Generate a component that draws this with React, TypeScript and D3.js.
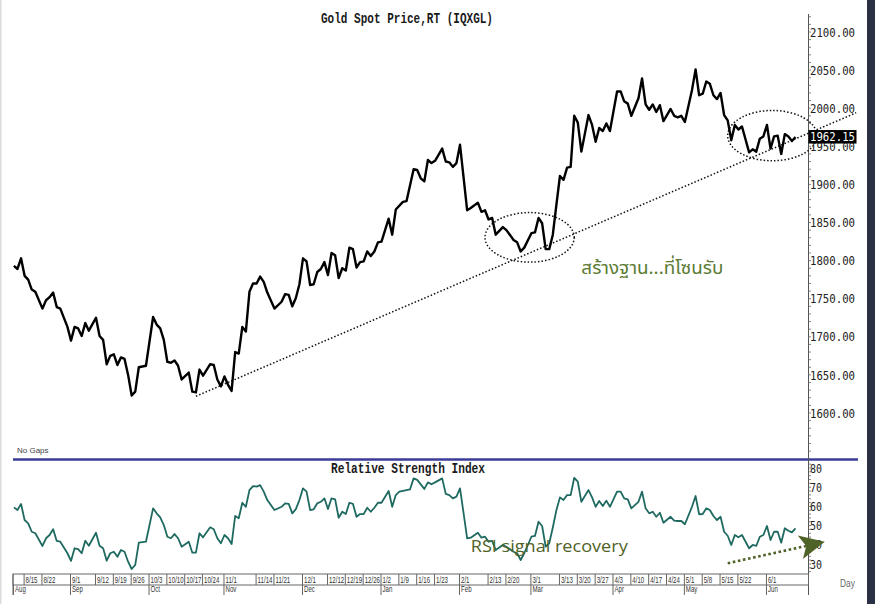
import React from "react";
import * as d3 from "d3";

const START = "2022-08-10";

const title = "Gold Spot Price,RT (IQXGL)";
const rsiTitle = "Relative Strength Index";
const noteThai = "สร้างฐาน...ที่โซนรับ";
const noteRsi = "RSI signal recovery";
const lastPrice = 1962.15;

const priceSeries: [string, number][] = [
  ["2022-08-10", 1793], ["2022-08-11", 1789], ["2022-08-12", 1803], ["2022-08-15", 1780], ["2022-08-16", 1775],
  ["2022-08-17", 1762], ["2022-08-18", 1759], ["2022-08-22", 1737], ["2022-08-23", 1748], ["2022-08-24", 1752],
  ["2022-08-25", 1758], ["2022-08-26", 1739], ["2022-08-29", 1737], ["2022-08-31", 1713], ["2022-09-01", 1695],
  ["2022-09-02", 1713], ["2022-09-05", 1711], ["2022-09-06", 1701], ["2022-09-07", 1718], ["2022-09-08", 1708],
  ["2022-09-12", 1725], ["2022-09-13", 1701], ["2022-09-14", 1696], ["2022-09-15", 1664], ["2022-09-16", 1675],
  ["2022-09-19", 1677], ["2022-09-20", 1663], ["2022-09-21", 1673], ["2022-09-22", 1671], ["2022-09-23", 1650],
  ["2022-09-26", 1623], ["2022-09-27", 1628], ["2022-09-28", 1660], ["2022-09-30", 1662], ["2022-10-04", 1726],
  ["2022-10-05", 1716], ["2022-10-06", 1711], ["2022-10-07", 1696], ["2022-10-10", 1667], ["2022-10-11", 1666],
  ["2022-10-12", 1669], ["2022-10-13", 1662], ["2022-10-14", 1644], ["2022-10-18", 1653], ["2022-10-19", 1628],
  ["2022-10-20", 1627], ["2022-10-21", 1657], ["2022-10-24", 1649], ["2022-10-26", 1664], ["2022-10-27", 1663],
  ["2022-10-28", 1644], ["2022-10-31", 1635], ["2022-11-01", 1648], ["2022-11-02", 1637], ["2022-11-03", 1629],
  ["2022-11-04", 1680], ["2022-11-07", 1678], ["2022-11-08", 1713], ["2022-11-09", 1707], ["2022-11-10", 1759],
  ["2022-11-11", 1770], ["2022-11-14", 1770], ["2022-11-15", 1779], ["2022-11-16", 1772], ["2022-11-17", 1758],
  ["2022-11-21", 1737], ["2022-11-23", 1746], ["2022-11-24", 1756], ["2022-11-25", 1755], ["2022-11-28", 1740],
  ["2022-11-29", 1751], ["2022-11-30", 1769], ["2022-12-01", 1803], ["2022-12-02", 1799], ["2022-12-05", 1768],
  ["2022-12-06", 1769], ["2022-12-07", 1785], ["2022-12-08", 1789], ["2022-12-09", 1798], ["2022-12-12", 1781],
  ["2022-12-13", 1810], ["2022-12-14", 1807], ["2022-12-15", 1777], ["2022-12-16", 1790], ["2022-12-19", 1787],
  ["2022-12-20", 1817], ["2022-12-21", 1815], ["2022-12-22", 1791], ["2022-12-23", 1798], ["2022-12-26", 1799],
  ["2022-12-27", 1812], ["2022-12-28", 1806], ["2022-12-29", 1812], ["2022-12-30", 1824], ["2023-01-02", 1825],
  ["2023-01-04", 1855], ["2023-01-05", 1834], ["2023-01-06", 1867], ["2023-01-10", 1877], ["2023-01-11", 1878],
  ["2023-01-13", 1920], ["2023-01-16", 1919], ["2023-01-17", 1908], ["2023-01-18", 1904], ["2023-01-19", 1932],
  ["2023-01-20", 1928], ["2023-01-23", 1931], ["2023-01-25", 1947], ["2023-01-26", 1930], ["2023-01-27", 1929],
  ["2023-01-30", 1923], ["2023-01-31", 1928], ["2023-02-01", 1952], ["2023-02-03", 1866], ["2023-02-06", 1869],
  ["2023-02-08", 1876], ["2023-02-09", 1864], ["2023-02-10", 1866], ["2023-02-13", 1854], ["2023-02-14", 1856],
  ["2023-02-15", 1834], ["2023-02-17", 1844], ["2023-02-20", 1840], ["2023-02-22", 1827], ["2023-02-23", 1824],
  ["2023-02-24", 1812], ["2023-02-27", 1817], ["2023-03-01", 1836], ["2023-03-02", 1837], ["2023-03-03", 1856],
  ["2023-03-06", 1849], ["2023-03-07", 1815], ["2023-03-08", 1815], ["2023-03-09", 1834], ["2023-03-10", 1873],
  ["2023-03-13", 1911], ["2023-03-14", 1906], ["2023-03-15", 1922], ["2023-03-16", 1923], ["2023-03-17", 1990],
  ["2023-03-20", 1981], ["2023-03-21", 1943], ["2023-03-23", 1991], ["2023-03-24", 1978], ["2023-03-27", 1956],
  ["2023-03-28", 1974], ["2023-03-29", 1970], ["2023-03-30", 1980], ["2023-03-31", 1970], ["2023-04-04", 2022],
  ["2023-04-05", 2022], ["2023-04-06", 2009], ["2023-04-07", 2006], ["2023-04-10", 1990], ["2023-04-12", 2013],
  ["2023-04-13", 2039], ["2023-04-14", 2005], ["2023-04-17", 1998], ["2023-04-18", 2005], ["2023-04-19", 1995],
  ["2023-04-20", 2004], ["2023-04-21", 1983], ["2023-04-25", 1999], ["2023-04-26", 1990], ["2023-04-27", 1988],
  ["2023-04-28", 1990], ["2023-05-01", 1982], ["2023-05-03", 2024], ["2023-05-04", 2051], ["2023-05-05", 2017],
  ["2023-05-08", 2019], ["2023-05-09", 2035], ["2023-05-10", 2032], ["2023-05-11", 2017], ["2023-05-12", 2012],
  ["2023-05-15", 2020], ["2023-05-16", 1991], ["2023-05-17", 1984], ["2023-05-18", 1958], ["2023-05-19", 1978],
  ["2023-05-22", 1972], ["2023-05-23", 1976], ["2023-05-25", 1942], ["2023-05-26", 1946], ["2023-05-29", 1943],
  ["2023-05-30", 1960], ["2023-05-31", 1963], ["2023-06-01", 1978], ["2023-06-02", 1947], ["2023-06-05", 1963],
  ["2023-06-06", 1964], ["2023-06-07", 1940], ["2023-06-08", 1966], ["2023-06-09", 1963], ["2023-06-12", 1957],
  ["2023-06-13", 1962.15],
];

const rsiSeries: [string, number][] = [
  ["2022-08-10", 59.5], ["2022-08-11", 58.1], ["2022-08-12", 61.3], ["2022-08-15", 52.9], ["2022-08-16", 51.2],
  ["2022-08-17", 46.8], ["2022-08-18", 46.0], ["2022-08-22", 39.4], ["2022-08-23", 43.4], ["2022-08-24", 45.1],
  ["2022-08-25", 48.1], ["2022-08-26", 42.0], ["2022-08-29", 41.6], ["2022-08-31", 35.6], ["2022-09-01", 31.6],
  ["2022-09-02", 38.2], ["2022-09-05", 37.7], ["2022-09-06", 35.6], ["2022-09-07", 42.1], ["2022-09-08", 39.5],
  ["2022-09-12", 46.3], ["2022-09-13", 39.5], ["2022-09-14", 38.2], ["2022-09-15", 31.7], ["2022-09-16", 35.6],
  ["2022-09-19", 36.4], ["2022-09-20", 33.8], ["2022-09-21", 37.3], ["2022-09-22", 36.4], ["2022-09-23", 31.2],
  ["2022-09-26", 27.4], ["2022-09-27", 29.5], ["2022-09-28", 41.1], ["2022-09-30", 41.6], ["2022-10-04", 59.0],
  ["2022-10-05", 56.4], ["2022-10-06", 54.3], ["2022-10-07", 50.3], ["2022-10-10", 44.2], ["2022-10-11", 43.4],
  ["2022-10-12", 45.6], ["2022-10-13", 43.4], ["2022-10-14", 39.0], ["2022-10-18", 41.6], ["2022-10-19", 35.9],
  ["2022-10-20", 35.9], ["2022-10-21", 46.0], ["2022-10-24", 43.9], ["2022-10-26", 49.1], ["2022-10-27", 48.1],
  ["2022-10-28", 43.4], ["2022-10-31", 40.8], ["2022-11-01", 45.1], ["2022-11-02", 43.4], ["2022-11-03", 40.4],
  ["2022-11-04", 55.0], ["2022-11-07", 53.8], ["2022-11-08", 61.9], ["2022-11-09", 59.8], ["2022-11-10", 68.5],
  ["2022-11-11", 70.6], ["2022-11-14", 70.3], ["2022-11-15", 71.1], ["2022-11-16", 67.7], ["2022-11-17", 63.3],
  ["2022-11-21", 58.1], ["2022-11-23", 59.8], ["2022-11-24", 61.6], ["2022-11-25", 61.3], ["2022-11-28", 56.4],
  ["2022-11-29", 58.6], ["2022-11-30", 63.3], ["2022-12-01", 69.4], ["2022-12-02", 67.7], ["2022-12-05", 58.1],
  ["2022-12-06", 58.5], ["2022-12-07", 61.6], ["2022-12-08", 62.4], ["2022-12-09", 64.2], ["2022-12-12", 58.6],
  ["2022-12-13", 64.2], ["2022-12-14", 63.7], ["2022-12-15", 54.1], ["2022-12-16", 57.2], ["2022-12-19", 56.0],
  ["2022-12-20", 61.9], ["2022-12-21", 61.3], ["2022-12-22", 54.6], ["2022-12-23", 56.0], ["2022-12-26", 56.0],
  ["2022-12-27", 59.3], ["2022-12-28", 57.2], ["2022-12-29", 59.3], ["2022-12-30", 61.9], ["2023-01-02", 61.9],
  ["2023-01-04", 68.0], ["2023-01-05", 59.8], ["2023-01-06", 65.9], ["2023-01-09", 67.7], ["2023-01-11", 68.5],
  ["2023-01-12", 68.9], ["2023-01-13", 74.6], ["2023-01-16", 73.8], ["2023-01-18", 69.1], ["2023-01-19", 72.5],
  ["2023-01-20", 71.5], ["2023-01-23", 72.5], ["2023-01-25", 74.6], ["2023-01-26", 66.5], ["2023-01-27", 65.9],
  ["2023-01-30", 64.2], ["2023-01-31", 65.1], ["2023-02-01", 69.4], ["2023-02-03", 43.4], ["2023-02-06", 43.7],
  ["2023-02-08", 46.3], ["2023-02-09", 43.7], ["2023-02-10", 44.2], ["2023-02-13", 41.6], ["2023-02-14", 42.0],
  ["2023-02-15", 37.3], ["2023-02-17", 39.9], ["2023-02-20", 39.0], ["2023-02-22", 36.4], ["2023-02-23", 35.6],
  ["2023-02-24", 32.1], ["2023-02-27", 35.6], ["2023-03-01", 44.2], ["2023-03-02", 44.6], ["2023-03-03", 52.0],
  ["2023-03-06", 49.8], ["2023-03-07", 39.0], ["2023-03-08", 40.8], ["2023-03-09", 49.0], ["2023-03-10", 58.0],
  ["2023-03-13", 64.7], ["2023-03-14", 63.3], ["2023-03-15", 65.9], ["2023-03-16", 65.9], ["2023-03-17", 74.9],
  ["2023-03-20", 72.9], ["2023-03-21", 62.4], ["2023-03-23", 68.5], ["2023-03-24", 64.7], ["2023-03-27", 59.8],
  ["2023-03-28", 62.8], ["2023-03-29", 60.2], ["2023-03-30", 63.0], ["2023-03-31", 59.8], ["2023-04-04", 67.7],
  ["2023-04-05", 67.7], ["2023-04-06", 64.2], ["2023-04-07", 63.7], ["2023-04-10", 59.0], ["2023-04-12", 62.4],
  ["2023-04-13", 67.7], ["2023-04-14", 59.0], ["2023-04-17", 56.4], ["2023-04-18", 57.2], ["2023-04-19", 54.6],
  ["2023-04-20", 56.7], ["2023-04-21", 51.5], ["2023-04-25", 54.6], ["2023-04-26", 52.6], ["2023-04-27", 52.4],
  ["2023-04-28", 52.4], ["2023-05-01", 50.7], ["2023-05-03", 59.8], ["2023-05-04", 65.4], ["2023-05-05", 55.9],
  ["2023-05-08", 56.0], ["2023-05-09", 59.0], ["2023-05-10", 58.1], ["2023-05-11", 55.0], ["2023-05-12", 52.9],
  ["2023-05-15", 54.6], ["2023-05-16", 46.8], ["2023-05-17", 44.7], ["2023-05-18", 39.9], ["2023-05-19", 45.1],
  ["2023-05-22", 43.9], ["2023-05-23", 45.1], ["2023-05-25", 38.2], ["2023-05-26", 39.9], ["2023-05-29", 39.4],
  ["2023-05-30", 44.2], ["2023-05-31", 45.1], ["2023-06-01", 49.8], ["2023-06-02", 42.5], ["2023-06-05", 46.8],
  ["2023-06-06", 46.8], ["2023-06-07", 41.1], ["2023-06-08", 48.6], ["2023-06-09", 47.3], ["2023-06-12", 46.5],
  ["2023-06-13", 48.6],
];

const weekTicks = [
  "2022-08-15", "2022-08-22", "2022-09-01", "2022-09-12", "2022-09-19", "2022-09-26", "2022-10-03", "2022-10-10",
  "2022-10-17", "2022-10-24", "2022-11-01", "2022-11-14", "2022-11-21", "2022-12-01", "2022-12-12", "2022-12-19",
  "2022-12-26", "2023-01-02", "2023-01-09", "2023-01-16", "2023-01-23", "2023-02-01", "2023-02-13", "2023-02-20",
  "2023-03-01", "2023-03-13", "2023-03-20", "2023-03-27", "2023-04-03", "2023-04-10", "2023-04-17", "2023-04-24",
  "2023-05-01", "2023-05-08", "2023-05-15", "2023-05-22", "2023-06-01",
];

const monthTicks: [string, string][] = [
  ["2022-08-10", "Aug"], ["2022-09-01", "Sep"], ["2022-10-03", "Oct"], ["2022-11-01", "Nov"],
  ["2022-12-01", "Dec"], ["2023-01-02", "Jan"], ["2023-02-01", "Feb"], ["2023-03-01", "Mar"],
  ["2023-04-03", "Apr"], ["2023-05-01", "May"], ["2023-06-01", "Jun"],
];

const priceTicks = [1600, 1650, 1700, 1750, 1800, 1850, 1900, 1950, 2000, 2050, 2100];
const rsiTicks = [30, 40, 50, 60, 70, 80];

// annotation anchors (date, value)
const trendLine: [string, number][] = [["2022-10-20", 1622], ["2023-07-06", 1994]];
const zones = [
  { from: "2023-02-10", to: "2023-03-17", low: 1798, high: 1863 },
  { from: "2023-05-17", to: "2023-06-21", low: 1931, high: 1997 },
];
const thaiNoteAt: [string, number] = ["2023-03-21", 1782];
const rsiNoteAt: [string, number] = ["2023-02-06", 36.4];
const rsiArrow: [string, number][] = [["2023-05-17", 30.4], ["2023-06-16", 39.4]];

function tradingIndex(s: string): number {
  const p = (q: string) => { const [y, m, d] = q.split("-").map(Number); return Date.UTC(y, m - 1, d); };
  const t0 = p(START), t = p(s);
  let n = 0;
  for (let u = t0; u < t; u += 86400000) {
    const wd = new Date(u).getUTCDay();
    if (wd !== 0 && wd !== 6) n++;
  }
  return n;
}

const x = d3.scaleLinear().domain([0, 222.5]).range([13.9, 808]);
const yP = d3.scaleLinear().domain([1600, 2100]).range([413, 32]);
const yR = d3.scaleLinear().domain([30, 80]).range([564, 468]);
const xd = (s: string) => x(tradingIndex(s));

const priceLine = d3.line<[string, number]>().x(d => xd(d[0])).y(d => yP(d[1]))(priceSeries) || "";
const rsiLine = d3.line<[string, number]>().x(d => xd(d[0])).y(d => yR(d[1]))(rsiSeries) || "";

const AX = 808.5;
const monoFont = "'DejaVu Sans Mono', monospace";
const titleFont = "'Liberation Mono', 'Courier New', monospace";
const smallFont = "'Liberation Sans', Arial, sans-serif";

function label(s: string) {
  const [, m, d] = s.split("-").map(Number);
  return `${m}/${d}`;
}

export default function App() {
  const minorP = d3.range(1550, 2130, 10).filter(v => yP(v) > 14 && yP(v) < 458);
  const minorR = d3.range(26, 86, 2).filter(v => yR(v) > 461 && yR(v) < 573);

  // arrow head geometry from arrow line direction
  const a0 = [xd(rsiArrow[0][0]), yR(rsiArrow[0][1])];
  const a1 = [xd(rsiArrow[1][0]), yR(rsiArrow[1][1])];
  const len = Math.hypot(a1[0] - a0[0], a1[1] - a0[1]);
  const ux = (a1[0] - a0[0]) / len, uy = (a1[1] - a0[1]) / len;
  const back = [a1[0] - 6 * ux, a1[1] - 6 * uy];
  const tip = [back[0] + 25 * ux, back[1] + 25 * uy];
  const px = -uy, py = ux;
  const c1 = [back[0] + 12 * px, back[1] + 12 * py];
  const c2 = [back[0] - 12 * px, back[1] - 12 * py];
  const notch = [back[0] + 6 * ux, back[1] + 6 * uy];
  const head = [c1, tip, c2, notch].map(p => p.join(",")).join(" ");

  const yLast = yP(lastPrice);

  return (
    <svg width={875} height={604} style={{ position: "absolute", left: 0, top: 0, background: "#fff" }}>
      <rect x={0} y={0} width={875} height={604} fill="#fff" />
      <rect x={0} y={0} width={1.5} height={604} fill="#dcdcdc" />
      <rect x={867} y={0} width={8} height={604} fill="#2c3045" />

      {/* titles */}
      <text x={321} y={23} fontFamily={titleFont} fontSize={14.5} fontWeight="bold" fill="#1a1a1a"
        textLength={172} lengthAdjust="spacingAndGlyphs">{title}</text>
      <text x={17} y={453} fontFamily={smallFont} fontSize={8} fill="#444">No Gaps</text>

      {/* separator */}
      <line x1={13} x2={858} y1={459.5} y2={459.5} stroke="#3b3b99" strokeWidth={2.3} />
      <text x={331} y={472.5} fontFamily={titleFont} fontSize={14.5} fontWeight="bold" fill="#1a1a1a"
        textLength={154} lengthAdjust="spacingAndGlyphs">{rsiTitle}</text>

      {/* right axis */}
      <line x1={AX} x2={AX} y1={14} y2={595} stroke="#555" strokeWidth={1} />
      {minorP.map(v => (
        <line key={"mp" + v} x1={AX} x2={AX + 2.5} y1={yP(v)} y2={yP(v)} stroke="#666" strokeWidth={0.8} />
      ))}
      {minorR.map(v => (
        <line key={"mr" + v} x1={AX} x2={AX + 2.5} y1={yR(v)} y2={yR(v)} stroke="#666" strokeWidth={0.8} />
      ))}
      {priceTicks.map(v => (
        <text key={"pt" + v} x={810} y={yP(v) + 4.6} fontFamily={monoFont} fontSize={12.5} fill="#222"
          textLength={45} lengthAdjust="spacingAndGlyphs">{v.toFixed(2)}</text>
      ))}
      {rsiTicks.map(v => (
        <text key={"rt" + v} x={810} y={yR(v) + 4.6} fontFamily={monoFont} fontSize={12.5} fill="#222"
          textLength={12} lengthAdjust="spacingAndGlyphs">{v}</text>
      ))}

      {/* x axis */}
      <rect x={13} y={574} width={AX - 13} height={11} fill="none" stroke="#666" strokeWidth={1} />
      <line x1={13} x2={13} y1={574} y2={595} stroke="#666" strokeWidth={1} />
      {weekTicks.map(s => {
        const xx = xd(s);
        return (
          <g key={"wt" + s}>
            <line x1={xx - 0.5} x2={xx - 0.5} y1={574} y2={585} stroke="#666" strokeWidth={1} />
            <text transform={`translate(${xx + 1},${582.5}) scale(0.72,1)`} fontFamily={smallFont} fontSize={8.5}
              fill="#333">{label(s)}</text>
          </g>
        );
      })}
      {monthTicks.map(([s, m], i) => {
        const xx = i === 0 ? 13.5 : xd(s) - 0.5;
        return (
          <g key={"mt" + s}>
            <line x1={xx} x2={xx} y1={585} y2={595} stroke="#666" strokeWidth={1} />
            <text transform={`translate(${xx + 1.5},${592}) scale(0.72,1)`} fontFamily={smallFont} fontSize={8.5}
              fill="#333">{m}</text>
          </g>
        );
      })}
      <text transform={`translate(840,587) scale(0.8,1)`} fontFamily={smallFont} fontSize={10.5} fill="#666">Day</text>

      {/* annotations: trend line and zones */}
      <line x1={xd(trendLine[0][0])} y1={yP(trendLine[0][1])} x2={xd(trendLine[1][0])} y2={yP(trendLine[1][1])}
        stroke="#111" strokeWidth={1.5} strokeDasharray="1.5 2" />
      {zones.map((z, i) => {
        const x0 = xd(z.from), x1 = xd(z.to), y0 = yP(z.high), y1 = yP(z.low);
        return (
          <ellipse key={"z" + i} cx={(x0 + x1) / 2} cy={(y0 + y1) / 2} rx={(x1 - x0) / 2} ry={(y1 - y0) / 2}
            fill="none" stroke="#111" strokeWidth={1.5} strokeDasharray="1.5 2" />
        );
      })}

      {/* series */}
      <path d={priceLine} fill="none" stroke="#000" strokeWidth={2.4} strokeLinejoin="round" />
      <path d={rsiLine} fill="none" stroke="#1f6a60" strokeWidth={1.8} strokeLinejoin="round" />

      {/* last price tag */}
      <rect x={AX} y={yLast - 7} width={48} height={13.5} fill="#000" />
      <text x={810} y={yLast + 4.4} fontFamily={monoFont} fontSize={12.5} fill="#fff"
        textLength={45} lengthAdjust="spacingAndGlyphs">{lastPrice.toFixed(2)}</text>

      {/* notes */}
      <text x={xd(thaiNoteAt[0])} y={yP(thaiNoteAt[1])} fontFamily="'Noto Sans Thai', 'Noto Sans', sans-serif"
        fontSize={18.5} fill="#5b7b33" textLength={142} lengthAdjust="spacingAndGlyphs">{noteThai}</text>
      <text x={xd(rsiNoteAt[0])} y={yR(rsiNoteAt[1])} fontFamily="'Open Sans', sans-serif" fontSize={17}
        fill="#4f6228" textLength={157} lengthAdjust="spacingAndGlyphs">{noteRsi}</text>

      <line x1={a0[0]} y1={a0[1]} x2={a1[0]} y2={a1[1]} stroke="#4f6228" strokeWidth={2.6} strokeDasharray="2.6 2.6" />
      <polygon points={head} fill="#4f6228" />
    </svg>
  );
}
